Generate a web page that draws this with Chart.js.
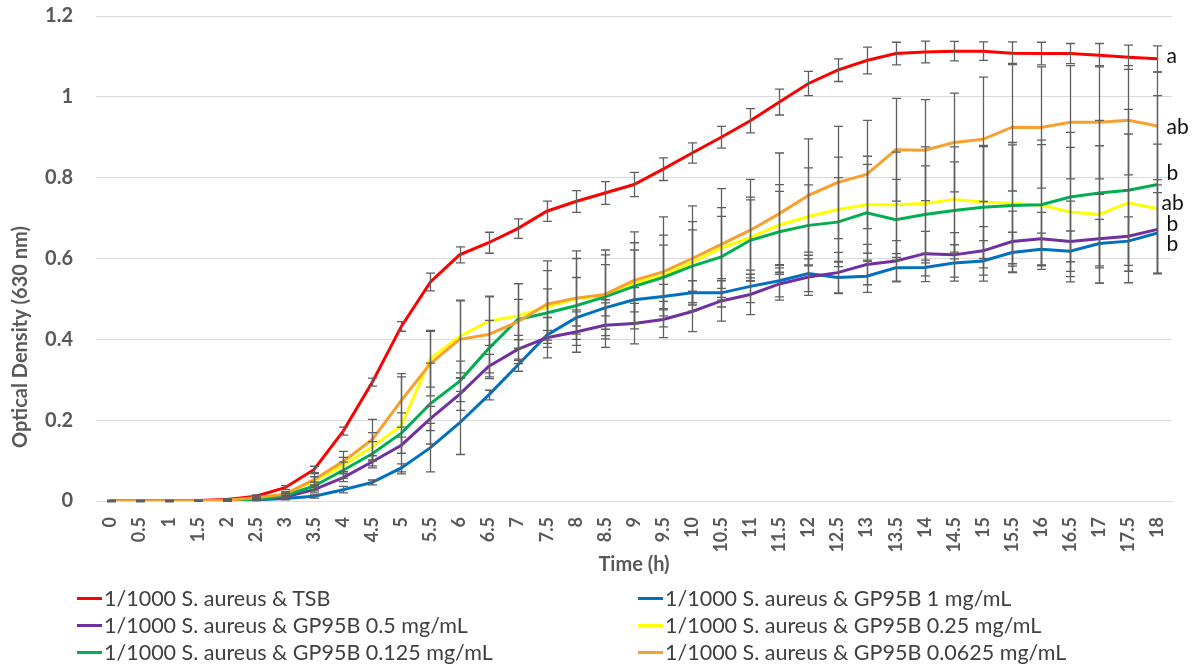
<!DOCTYPE html>
<html>
<head>
<meta charset="utf-8">
<script src="https://cdn.jsdelivr.net/npm/chart.js"></script>
<style>
  html, body { margin: 0; padding: 0; background: #fff; }
  #wrap { position: relative; width: 1199px; height: 667px; }
  #growthChart { position: absolute; left: 0; top: 0; }
  #legend { position: absolute; left: 0; top: 0; width: 1199px; height: 667px; font-family: Lato, sans-serif; font-size: 21.5px; color: #404040; }
  .legend-item { position: absolute; display: flex; align-items: center; white-space: nowrap; transform: translateY(-50%); }
  .legend-item .mark { display: inline-block; width: 25px; height: 3px; margin-right: 2px; }
</style>
</head>
<body>
<div id="wrap">
  <canvas id="growthChart" width="1199" height="667"></canvas>
  <div id="legend"></div>
</div>
<script>
const times = ['0','0.5','1','1.5','2','2.5','3','3.5','4','4.5','5','5.5','6','6.5','7','7.5','8','8.5','9','9.5',
  '10','10.5','11','11.5','12','12.5','13','13.5','14','14.5','15','15.5','16','16.5','17','17.5','18'];

const seriesNames = [
  '1/1000 S. aureus & TSB',
  '1/1000 S. aureus & GP95B 1 mg/mL',
  '1/1000 S. aureus & GP95B 0.5 mg/mL',
  '1/1000 S. aureus & GP95B 0.25 mg/mL',
  '1/1000 S. aureus & GP95B 0.125 mg/mL',
  '1/1000 S. aureus & GP95B 0.0625 mg/mL'
];

const tsb = [0,0,0,0.001,0.004,0.012,0.033,0.078,0.173,0.294,0.432,0.542,0.609,0.639,0.674,0.717,0.741,0.762,0.783,0.821,
  0.861,0.9,0.941,0.987,1.033,1.066,1.09,1.107,1.111,1.113,1.113,1.108,1.107,1.107,1.103,1.098,1.094];
const tsbErr = [0.002,0.002,0.002,0.002,0.002,0.003,0.005,0.008,0.01,0.01,0.012,0.022,0.02,0.026,0.024,0.025,0.027,0.028,0.03,0.028,
  0.025,0.027,0.03,0.032,0.03,0.028,0.033,0.028,0.027,0.024,0.023,0.028,0.028,0.025,0.029,0.03,0.032];

const gp1 = [0,0,0,0,0.001,0.003,0.006,0.012,0.028,0.046,0.082,0.132,0.193,0.262,0.336,0.41,0.453,0.478,0.498,0.506,
  0.515,0.515,0.531,0.545,0.563,0.553,0.556,0.577,0.578,0.589,0.594,0.615,0.623,0.618,0.637,0.643,0.663];
const gp1Err = [0.001,0.001,0.001,0.001,0.001,0.002,0.003,0.005,0.008,0.006,0.01,0.06,0.078,0.012,0.015,0.012,0.02,0.02,0.03,0.03,
  0.03,0.035,0.04,0.04,0.045,0.04,0.04,0.035,0.035,0.045,0.05,0.05,0.04,0.05,0.06,0.06,0.1];

const gp05 = [0,0,0,0,0.001,0.004,0.01,0.028,0.058,0.097,0.138,0.204,0.264,0.333,0.375,0.404,0.418,0.435,0.439,0.449,
  0.469,0.495,0.511,0.537,0.554,0.565,0.585,0.594,0.612,0.609,0.619,0.642,0.649,0.642,0.649,0.655,0.672];
const gp05Err = [0.001,0.001,0.001,0.001,0.001,0.002,0.004,0.006,0.01,0.015,0.02,0.03,0.04,0.03,0.035,0.05,0.05,0.055,0.05,0.045,
  0.05,0.05,0.05,0.04,0.045,0.05,0.05,0.05,0.055,0.055,0.06,0.075,0.065,0.1,0.11,0.115,0.11];

const gp025 = [0,0,0,0,0.001,0.005,0.017,0.05,0.088,0.134,0.187,0.352,0.407,0.445,0.458,0.48,0.5,0.509,0.539,0.558,
  0.591,0.626,0.652,0.683,0.704,0.721,0.733,0.733,0.736,0.746,0.74,0.737,0.732,0.715,0.709,0.738,0.723];
const gp025Err = [0.001,0.001,0.001,0.001,0.001,0.003,0.005,0.01,0.02,0.035,0.12,0.07,0.09,0.06,0.08,0.09,0.1,0.1,0.1,0.1,
  0.1,0.1,0.1,0.1,0.12,0.13,0.12,0.13,0.14,0.13,0.14,0.15,0.15,0.16,0.17,0.17,0.16];

const gp0125 = [0,0,0,0,0.001,0.004,0.013,0.037,0.076,0.117,0.168,0.241,0.296,0.377,0.449,0.465,0.483,0.505,0.531,0.553,
  0.581,0.604,0.645,0.666,0.682,0.69,0.713,0.696,0.709,0.719,0.727,0.731,0.733,0.752,0.762,0.769,0.783];
const gp0125Err = [0.001,0.001,0.001,0.001,0.001,0.003,0.005,0.01,0.02,0.03,0.05,0.1,0.05,0.07,0.05,0.06,0.07,0.08,0.09,0.08,
  0.09,0.1,0.1,0.1,0.1,0.11,0.12,0.1,0.12,0.12,0.15,0.15,0.16,0.16,0.18,0.2,0.22];

const gp00625 = [0,0,0,0,0.002,0.008,0.017,0.053,0.098,0.152,0.249,0.34,0.4,0.412,0.443,0.487,0.502,0.511,0.546,0.567,
  0.6,0.635,0.67,0.711,0.756,0.788,0.808,0.869,0.868,0.887,0.895,0.925,0.924,0.937,0.937,0.942,0.928];
const gp00625Err = [0.001,0.001,0.001,0.001,0.002,0.004,0.006,0.015,0.025,0.05,0.066,0.08,0.095,0.095,0.095,0.107,0.117,0.11,0.12,0.136,
  0.13,0.138,0.126,0.15,0.14,0.139,0.134,0.127,0.125,0.122,0.154,0.158,0.15,0.14,0.14,0.135,0.133];

const sigLetters = ['a', 'b', 'b', 'ab', 'b', 'ab'];

const yTicks = [0, 0.2, 0.4, 0.6, 0.8, 1, 1.2];
const yTickLabels = ['0', '0.2', '0.4', '0.6', '0.8', '1', '1.2'];

// styling
const colors = ['#FF0000', '#0070C0', '#7030A0', '#FFFF00', '#00B050', '#F7A030'];
const letterNudge = [[9, -3], [9, 11], [9, -5], [4, -6], [9, -11], [9, 1]];
const tickGray = '#595959';

const values = [tsb, gp1, gp05, gp025, gp0125, gp00625];
const errors = [tsbErr, gp1Err, gp05Err, gp025Err, gp0125Err, gp00625Err];

const errorBarPlugin = {
  id: 'errorBars',
  afterDatasetsDraw(chart) {
    const ctx = chart.ctx;
    const yScale = chart.scales.y;
    ctx.save();
    ctx.strokeStyle = '#5f5f5f';
    ctx.lineWidth = 1.3;
    chart.data.datasets.forEach((ds, i) => {
      const meta = chart.getDatasetMeta(i);
      meta.data.forEach((pt, j) => {
        const e = errors[i][j];
        const top = yScale.getPixelForValue(values[i][j] + e);
        const bot = yScale.getPixelForValue(values[i][j] - e);
        const x = Math.round(pt.x) + 0.5;
        ctx.beginPath();
        ctx.moveTo(x, top); ctx.lineTo(x, bot);
        ctx.moveTo(x - 4.5, top); ctx.lineTo(x + 4.5, top);
        ctx.moveTo(x - 4.5, bot); ctx.lineTo(x + 4.5, bot);
        ctx.stroke();
      });
    });
    ctx.restore();
  }
};

const labelPlugin = {
  id: 'labels',
  afterDraw(chart) {
    const ctx = chart.ctx;
    const area = chart.chartArea;
    ctx.save();
    // significance letters
    ctx.font = '21px Lato, sans-serif';
    ctx.fillStyle = '#111111';
    ctx.textBaseline = 'middle';
    ctx.textAlign = 'left';
    chart.data.datasets.forEach((ds, i) => {
      const meta = chart.getDatasetMeta(i);
      const last = meta.data[meta.data.length - 1];
      ctx.fillText(sigLetters[i], last.x + letterNudge[i][0], last.y + letterNudge[i][1]);
    });
    // axis titles
    ctx.font = 'bold 20px Lato, sans-serif';
    ctx.fillStyle = tickGray;
    ctx.textAlign = 'center';
    ctx.fillText('Time (h)', (area.left + area.right) / 2, 565);
    ctx.translate(21, 337);
    ctx.rotate(-Math.PI / 2);
    ctx.fillText('Optical Density (630 nm)', 0, 0);
    ctx.restore();
  }
};

new Chart(document.getElementById('growthChart'), {
  type: 'line',
  data: {
    labels: times,
    datasets: values.map((v, i) => ({
      label: seriesNames[i],
      data: v,
      borderColor: colors[i],
      backgroundColor: colors[i],
      borderWidth: 3,
      pointRadius: 0,
      tension: 0,
      order: values.length - i
    }))
  },
  options: {
    responsive: false,
    animation: false,
    events: [],
    layout: { padding: { left: 0, right: 27, top: 16, bottom: 0 } },
    plugins: {
      legend: { display: false },
      tooltip: { enabled: false }
    },
    scales: {
      x: {
        offset: true,
        grid: { display: false, drawTicks: false },
        border: { display: true, color: '#D9D9D9', width: 1 },
        ticks: {
          autoSkip: false,
          minRotation: 90,
          maxRotation: 90,
          padding: 16,
          color: tickGray,
          font: { family: 'Lato, sans-serif', size: 18, weight: 'bold' }
        },
        afterFit(scale) { scale.height = 166; }
      },
      y: {
        min: 0,
        max: 1.2,
        afterBuildTicks(scale) { scale.ticks = yTicks.map(v => ({ value: v })); },
        grid: { color: '#D9D9D9', drawTicks: true, tickLength: 20, tickColor: 'rgba(0,0,0,0)' },
        border: { display: false },
        ticks: {
          padding: 3,
          color: tickGray,
          font: { family: 'Lato, sans-serif', size: 20, weight: 'bold' },
          callback: (v, idx) => yTickLabels[idx]
        },
        afterFit(scale) { scale.width = 96; }
      }
    }
  },
  plugins: [errorBarPlugin, labelPlugin]
});

// two-column legend below the plot
const legendEl = document.getElementById('legend');
const legendCols = [77, 638];
const legendRows = [598, 625, 652];
seriesNames.forEach((name, i) => {
  const item = document.createElement('div');
  item.className = 'legend-item';
  item.style.left = legendCols[i % 2] + 'px';
  item.style.top = legendRows[Math.floor(i / 2)] + 'px';
  item.innerHTML = '<span class="mark" style="background:' + colors[i] + '"></span>' + name;
  legendEl.appendChild(item);
});
</script>
</body>
</html>
